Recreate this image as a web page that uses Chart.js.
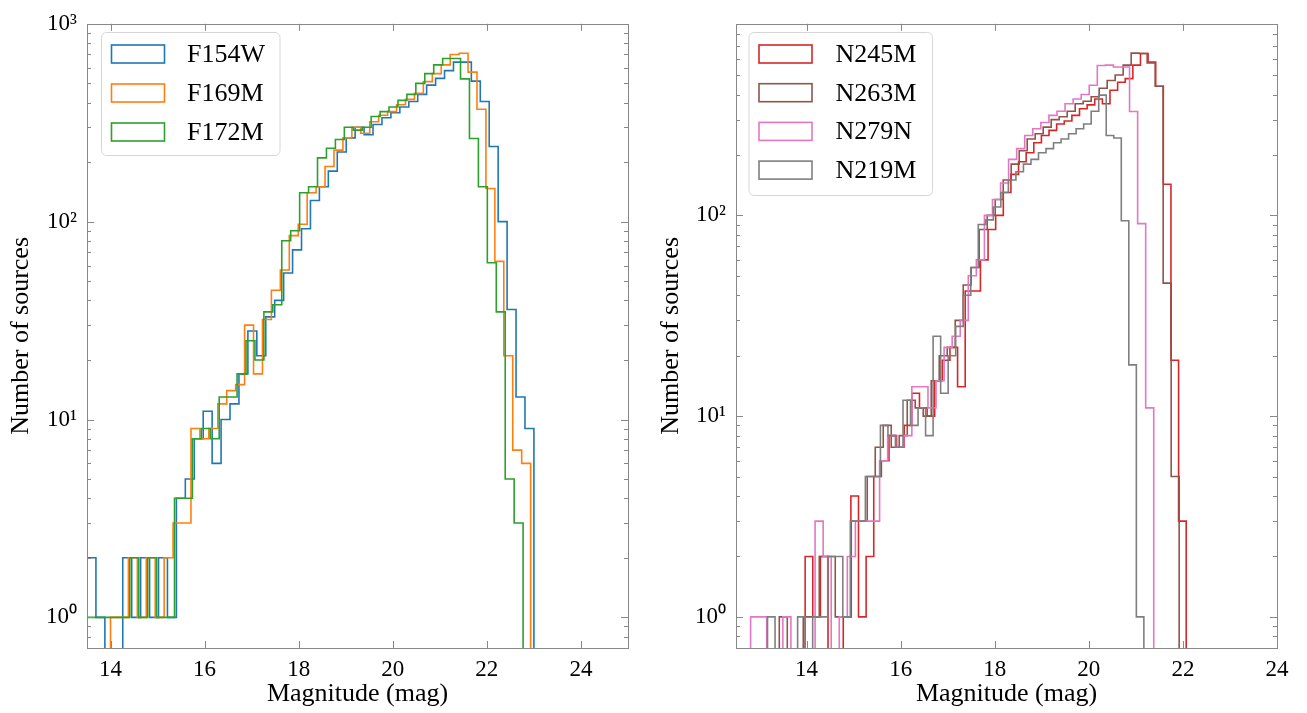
<!DOCTYPE html>
<html><head><meta charset="utf-8">
<script src="https://cdn.jsdelivr.net/npm/chart.js@4/dist/chart.umd.min.js"></script>
<style>
html,body{margin:0;padding:0;background:#fff;}
#wrap{position:relative;width:1307px;height:713px;overflow:hidden;background:#fff;}
canvas{position:absolute;top:0;}
#c1{left:0;} #c2{left:653px;}
</style></head><body>
<div id="wrap"><canvas id="c1" width="653" height="713"></canvas><canvas id="c2" width="654" height="713"></canvas></div>
<script>
// ---------------- data ----------------
const xTicks = [14, 16, 18, 20, 22, 24];
const yTicks = [1, 10, 100, 1000];
const yTickLabels = ['10\u2070', '10\u00b9', '10\u00b2', '10\u00b3'];

// left panel: first bin edge, bin width, counts per bin
const F154W_start = 13.50, F154W_width = 0.19;
const F154W_counts = [2,1,0,0,2,1,2,1,2,1,4,5,8,11,6,10,12,17,28,21,33,40,55,72,92,128,150,180,225,265,300,275,310,335,355,380,405,440,490,530,580,640,640,513,405,240,100,36,13,9];
const F169M_start = 13.43, F169M_width = 0.19;
const F169M_counts = [0,0,0,1,1,2,1,2,1,2,3,3,9,8,9,12,14,15,30,17,32,45,57,85,97,140,150,190,230,265,300,280,320,345,360,390,415,445,510,560,620,700,710,570,370,147,63,21,7,6];
const F172M_start = 13.27, F172M_width = 0.19;
const F172M_counts = [1,1,1,1,1,1,2,1,2,1,1,4,4,8,9,8,13,13,17,25,20,35,38,80,90,140,150,210,235,260,300,290,300,340,360,380,410,440,500,560,620,668,668,527,263,150,62,35,5,3];

// right panel
const N245M_start = 13.97, N245M_width = 0.162;
const N245M_counts = [2,1,2,0,0,1,4,1,2,5,6,8,7,9,13,11,10,15,19,22,14,42,42,60,85,100,130,160,185,205,230,250,265,285,295,315,340,355,380,360,420,460,480,560,640,580,440,143,19,3];
const N263M_start = 13.42, N263M_width = 0.17;
const N263M_counts = [1,0,0,1,1,2,2,1,1,3,3,5,7,9,7,8,12,11,10,15,20,22,30,45,55,85,100,120,150,180,210,240,255,275,300,310,330,360,370,390,430,470,500,560,643,640,574,440,46,5];
const N279N_start = 12.81, N279N_width = 0.1714;
const N279N_counts = [1,1,0,0,1,0,0,0,3,2,0,1,2,3,3,3,6,8,7,8,14,14,11,15,22,25,30,50,60,100,120,145,190,215,250,270,290,315,330,360,380,400,445,558,560,548,548,329,91,11];
const N219M_start = 13.17, N219M_width = 0.16;
const N219M_counts = [1,0,0,0,1,0,1,1,2,2,1,3,3,5,5,9,8,7,12,9,11,8,25,13,20,28,40,55,90,95,110,130,150,165,180,190,205,215,230,240,255,270,285,330,397,250,243,94,18,1];

const COL = {blue:'#1f77b4', orange:'#ff7f0e', green:'#2ca02c', red:'#d62728', brown:'#8c564b', pink:'#e377c2', gray:'#7f7f7f'};
const FONT = "'Liberation Serif', 'Times New Roman', serif";
const ZERO_FLOOR = 0.05; // empty bins are drawn below the axis (clipped), like log hist

function steps(start, width, counts) {
  const pts = [{x: start, y: ZERO_FLOOR}];
  counts.forEach((c, i) => pts.push({x: start + i * width, y: c > 0 ? c : ZERO_FLOOR}));
  pts.push({x: start + counts.length * width, y: ZERO_FLOOR});
  return pts;
}
function ds(label, start, width, counts, color, idx, n) {
  return {label, data: steps(start, width, counts), borderColor: color, backgroundColor: 'rgba(0,0,0,0)',
    borderWidth: 1.6, pointRadius: 0, pointHoverRadius: 0, stepped: 'before', fill: false, tension: 0, order: n - idx};
}

// frame + inward ticks (matplotlib style)
const framePlugin = {
  id: 'frameTicks',
  afterDatasetsDraw(chart) {
    const {ctx, chartArea: a, scales: {x, y}} = chart;
    ctx.save();
    ctx.strokeStyle = '#888888';
    ctx.lineWidth = 1;
    ctx.strokeRect(Math.round(a.left) + 0.5, Math.round(a.top) + 0.5, Math.round(a.right - a.left), Math.round(a.bottom - a.top));
    ctx.beginPath();
    x.ticks.forEach(t => {
      const px = Math.round(x.getPixelForValue(t.value)) + 0.5;
      if (px < a.left || px > a.right) return;
      ctx.moveTo(px, a.bottom); ctx.lineTo(px, a.bottom - 7);
      ctx.moveTo(px, a.top); ctx.lineTo(px, a.top + 7);
    });
    y.ticks.forEach(t => {
      const py = Math.round(y.getPixelForValue(t.value)) + 0.5;
      if (py < a.top - 1 || py > a.bottom + 1) return;
      ctx.moveTo(a.left, py); ctx.lineTo(a.left + 7, py);
      ctx.moveTo(a.right, py); ctx.lineTo(a.right - 7, py);
    });
    for (let d = -1; d <= 3; d++) {
      for (let m = 2; m <= 9; m++) {
        const v = m * Math.pow(10, d);
        if (v < y.min || v > y.max) continue;
        const py = Math.round(y.getPixelForValue(v)) + 0.5;
        ctx.moveTo(a.left, py); ctx.lineTo(a.left + 4, py);
        ctx.moveTo(a.right, py); ctx.lineTo(a.right - 4, py);
      }
    }
    ctx.stroke();
    ctx.restore();
  }
};

// legend box drawn inside the axes (matplotlib style)
const legendPlugin = {
  id: 'boxLegend',
  afterDraw(chart, args, o) {
    const {ctx} = chart;
    ctx.save();
    const r = 5;
    ctx.beginPath();
    ctx.moveTo(o.left + r, o.top);
    ctx.arcTo(o.left + o.width, o.top, o.left + o.width, o.top + o.height, r);
    ctx.arcTo(o.left + o.width, o.top + o.height, o.left, o.top + o.height, r);
    ctx.arcTo(o.left, o.top + o.height, o.left, o.top, r);
    ctx.arcTo(o.left, o.top, o.left + o.width, o.top, r);
    ctx.closePath();
    ctx.fillStyle = 'rgba(255,255,255,0.85)';
    ctx.fill();
    ctx.strokeStyle = '#d6d6d6';
    ctx.lineWidth = 1;
    ctx.stroke();
    ctx.font = o.fontSize + 'px ' + FONT;
    ctx.textBaseline = 'middle';
    ctx.fillStyle = '#000';
    chart.data.datasets.forEach((d, i) => {
      const cy = o.firstRow + i * o.rowGap;
      ctx.strokeStyle = d.borderColor;
      ctx.lineWidth = 1.6;
      ctx.strokeRect(o.swatchX, cy - o.swatchH / 2, o.swatchW, o.swatchH);
      ctx.fillText(d.label, o.textX, cy + 1);
    });
    ctx.restore();
  }
};

function makeChart(id, datasets, xmin, xmax, ymax, yAxisW, padRight, yTitlePad, legend) {
  return new Chart(document.getElementById(id), {
    type: 'line',
    data: {datasets},
    options: {
      responsive: false, animation: false, devicePixelRatio: 1,
      layout: {padding: {left: 0, right: padRight, top: 19, bottom: 0}},
      plugins: {legend: {display: false}, tooltip: {enabled: false}, boxLegend: legend},
      scales: {
        x: {
          type: 'linear', min: xmin, max: xmax,
          afterBuildTicks: s => { s.ticks = xTicks.map(v => ({value: v})); },
          afterFit: s => { s.height = 65; },
          grid: {display: false, drawTicks: false}, border: {display: false},
          ticks: {padding: 8, color: '#000', font: {family: FONT, size: 23}, callback: v => String(v), maxRotation: 0},
          title: {display: true, text: 'Magnitude (mag)', color: '#000', font: {family: FONT, size: 26}, padding: {top: 0, bottom: 3}}
        },
        y: {
          type: 'logarithmic', min: 0.72, max: ymax,
          afterBuildTicks: s => { s.ticks = yTicks.filter(v => v >= s.min && v <= s.max).map(v => ({value: v})); },
          afterFit: s => { s.width = yAxisW; },
          grid: {display: false, drawTicks: false}, border: {display: false},
          ticks: {padding: 10, color: '#000', font: {family: FONT, size: 23},
            callback: v => { const k = yTicks.indexOf(v); return k >= 0 ? yTickLabels[k] : ''; }},
          title: {display: true, text: 'Number of sources', color: '#000', font: {family: FONT, size: 26}, padding: {top: yTitlePad, bottom: 0}}
        }
      }
    },
    plugins: [framePlugin, legendPlugin]
  });
}

makeChart('c1', [
  ds('F154W', F154W_start, F154W_width, F154W_counts, COL.blue, 0, 3),
  ds('F169M', F169M_start, F169M_width, F169M_counts, COL.orange, 1, 3),
  ds('F172M', F172M_start, F172M_width, F172M_counts, COL.green, 2, 3)
], 13.5, 25, 1000, 87, 25, 6,
  {left: 101.5, top: 32.5, width: 178.5, height: 123, firstRow: 54, rowGap: 39, swatchX: 111.5, swatchW: 53, swatchH: 18, textX: 187, fontSize: 26});

makeChart('c2', [
  ds('N245M', N245M_start, N245M_width, N245M_counts, COL.red, 0, 4),
  ds('N263M', N263M_start, N263M_width, N263M_counts, COL.brown, 1, 4),
  ds('N279N', N279N_start, N279N_width, N279N_counts, COL.pink, 2, 4),
  ds('N219M', N219M_start, N219M_width, N219M_counts, COL.gray, 3, 4)
], 12.5, 24, 900, 83, 30, 2.5,
  {left: 96, top: 32.5, width: 183.5, height: 163, firstRow: 54, rowGap: 38.7, swatchX: 106, swatchW: 53, swatchH: 18, textX: 182.5, fontSize: 26});
</script></body></html>
